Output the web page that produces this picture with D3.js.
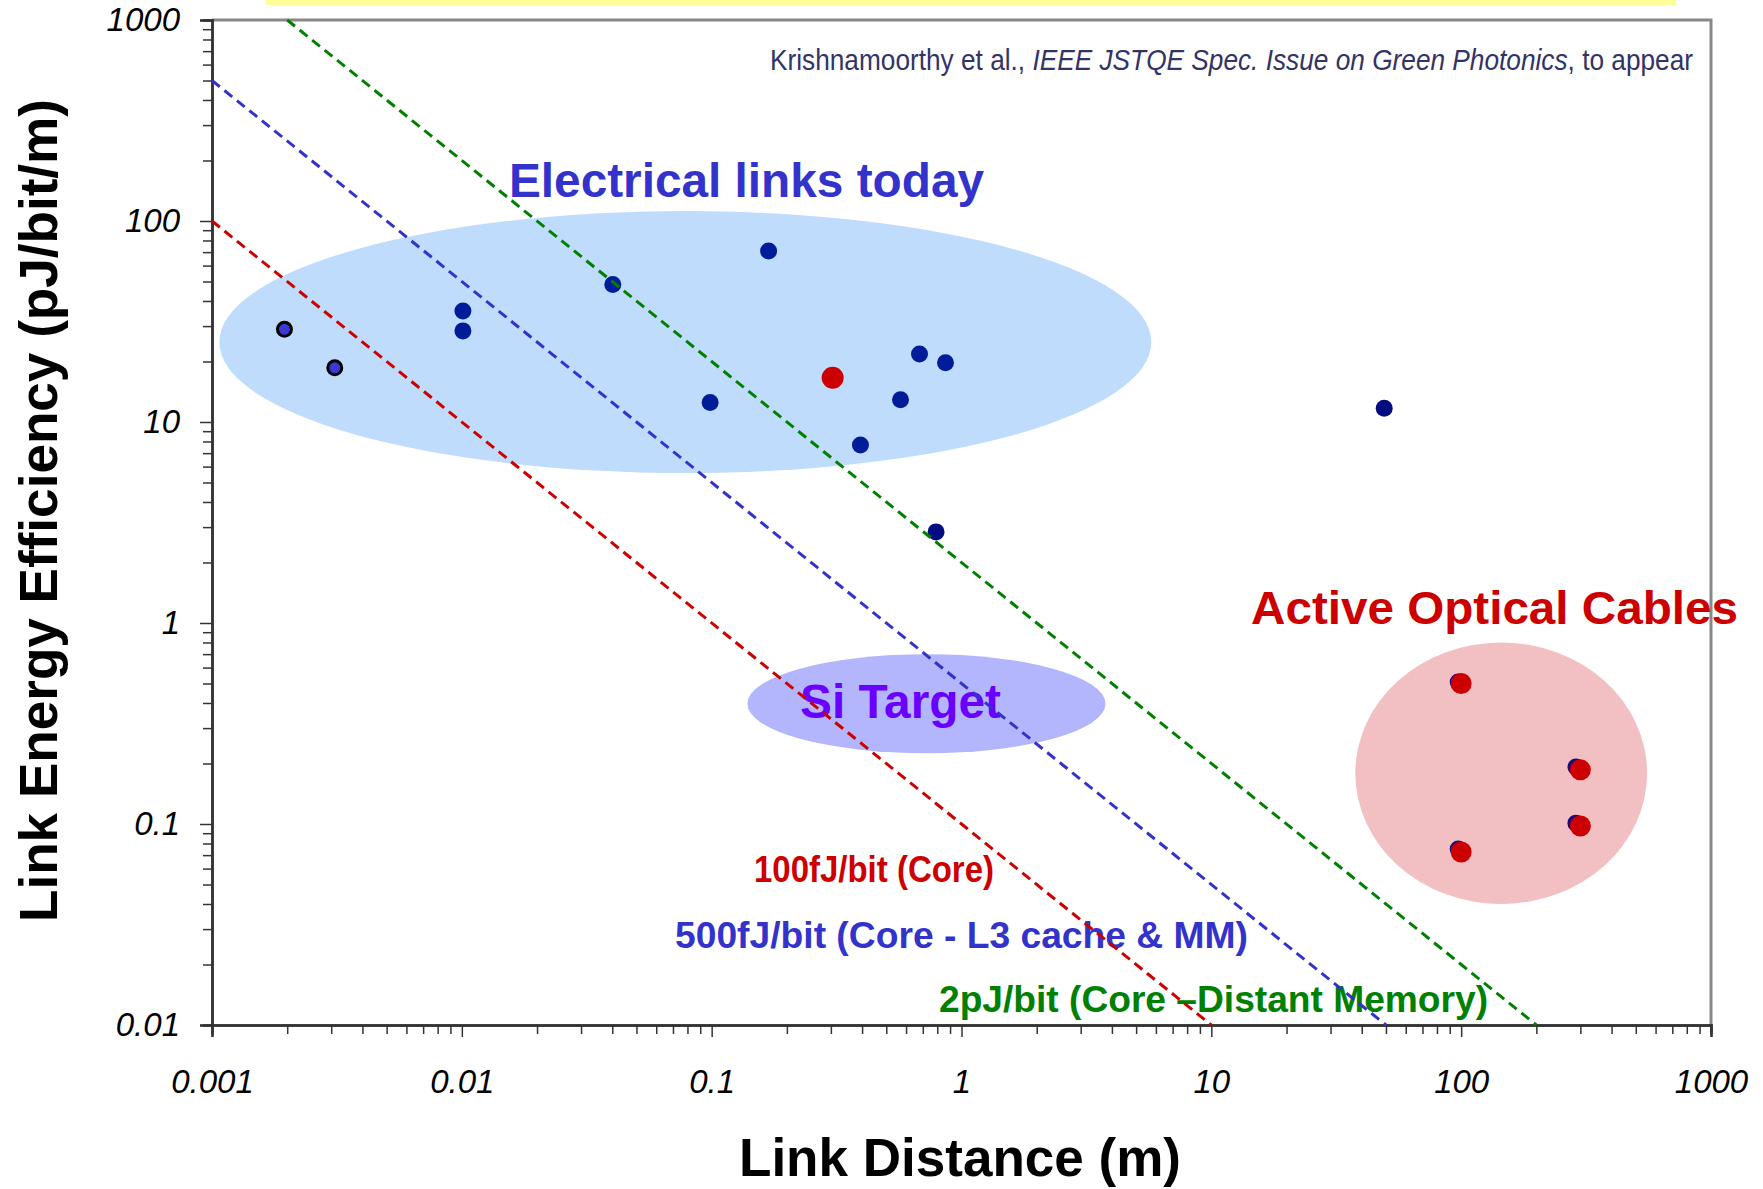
<!DOCTYPE html>
<html>
<head>
<meta charset="utf-8">
<script src="https://cdnjs.cloudflare.com/ajax/libs/d3/7.8.5/d3.min.js"></script>
<style>
body { margin: 0; background: #fff; }
svg text { font-family: "Liberation Sans", Arial, sans-serif; }
</style>
</head>
<body>
<div id="chart"></div>
<script>
// link distance (m) vs link energy efficiency (pJ/bit/m)
var xTickValues = [0.001, 0.01, 0.1, 1, 10, 100, 1000];
var xTickLabels = ['0.001', '0.01', '0.1', '1', '10', '100', '1000'];
var yTickValues = [0.01, 0.1, 1, 10, 100, 1000];
var yTickLabels = ['0.01', '0.1', '1', '10', '100', '1000'];

// on-chip links (outlined)
var onChipX = [0.00195, 0.0031];
var onChipY = [28.9, 18.6];

// electrical links today
var elecX = [0.0101, 0.0101, 0.0402, 0.169, 0.0986, 0.679, 0.863, 0.570, 0.394];
var elecY = [35.7, 28.4, 48.3, 71.0, 12.5, 21.8, 19.7, 12.9, 7.69];
var elecDarkX = [0.791, 49.2];
var elecDarkY = [2.84, 11.7];
var elecRedX = [0.305];
var elecRedY = [16.6];

// active optical cables (blue marker sits under the red one)
var aocBlueX = [97.3, 288, 288, 97.3];
var aocBlueY = [0.508, 0.192, 0.101, 0.0751];
var aocRedX = [100, 300, 300, 100];
var aocRedY = [0.5, 0.186, 0.0977, 0.0726];

// constant energy per bit lines
var lineNames  = ['100fJ', '500fJ', '2pJ'];
var lineX0 = [0.001, 0.001, 0.002];
var lineY0 = [100, 500, 1000];
var lineX1 = [10, 50, 200];
var lineY1 = [0.01, 0.01, 0.01];
var lineColors = ['#cc0000', '#3333cc', '#008000'];

// shaded regions (data bounds)
var regionNames = ['elec', 'si', 'aoc'];
var regionX0 = [0.00107, 0.139, 37.7];
var regionX1 = [5.75, 3.77, 555];
var regionY0 = [5.57, 0.225, 0.040];
var regionY1 = [112, 0.70, 0.80];
var regionColors = ['#c0dcfc', '#b3b6fc', '#f2c0c2'];


var chart_width  = 1763;
var chart_height = 1189;
var plot_left = 212, plot_right = 1711, plot_top = 20, plot_bottom = 1025;

var x_scale = d3.scaleLog()
	.domain([0.001, 1000])
	.range([plot_left, plot_right]);

var y_scale = d3.scaleLog()
	.domain([0.01, 1000])
	.range([plot_bottom, plot_top]);

var svg = d3.select('#chart')
	.append('svg')
	.attr('width', chart_width)
	.attr('height', chart_height);

svg.append('rect')
	.attr('width', chart_width).attr('height', chart_height)
	.attr('fill', '#fff');

// yellow strip at top
svg.append('rect')
	.attr('x', 266).attr('y', 0)
	.attr('width', 1410).attr('height', 5)
	.attr('fill', '#ffff99');

// shaded regions
regionNames.forEach(function(n, i) {
	var cx0 = x_scale(regionX0[i]), cx1 = x_scale(regionX1[i]);
	var cy0 = y_scale(regionY1[i]), cy1 = y_scale(regionY0[i]);
	svg.append('ellipse')
		.attr('cx', (cx0 + cx1) / 2)
		.attr('cy', (cy0 + cy1) / 2)
		.attr('rx', (cx1 - cx0) / 2)
		.attr('ry', (cy1 - cy0) / 2)
		.attr('fill', regionColors[i]);
});

// frame top / right
svg.append('path')
	.attr('d', 'M' + plot_left + ',' + plot_top + 'H' + plot_right + 'V' + plot_bottom)
	.attr('fill', 'none')
	.attr('stroke', '#888')
	.attr('stroke-width', 3);

// axes
var minorX = x_scale.ticks().filter(function(d) { return xTickValues.indexOf(d) < 0; });
var minorY = y_scale.ticks().filter(function(d) { return yTickValues.indexOf(d) < 0; });

var x_minor = d3.axisBottom(x_scale).tickValues(minorX).tickSize(9).tickFormat('');
var x_major = d3.axisBottom(x_scale).tickValues(xTickValues).tickSize(12).tickPadding(33)
	.tickFormat(function(d, i) { return xTickLabels[i]; });
var y_minor = d3.axisLeft(y_scale).tickValues(minorY).tickSize(9).tickFormat('');
var y_major = d3.axisLeft(y_scale).tickValues(yTickValues).tickSize(12).tickPadding(20)
	.tickFormat(function(d, i) { return yTickLabels[i]; });

[x_minor, x_major].forEach(function(ax) {
	svg.append('g')
		.attr('class', 'axis')
		.attr('transform', 'translate(0,' + plot_bottom + ')')
		.call(ax);
});
[y_minor, y_major].forEach(function(ax) {
	svg.append('g')
		.attr('class', 'axis')
		.attr('transform', 'translate(' + plot_left + ',0)')
		.call(ax);
});

svg.selectAll('.axis .domain').attr('stroke', '#333').attr('stroke-width', 2.5);
svg.selectAll('.axis .tick line').attr('stroke', '#333').attr('stroke-width', 1.5);
svg.selectAll('.axis text')
	.attr('fill', '#000')
	.style('font-size', '33px')
	.style('font-style', 'italic')
	.style('font-family', '"Liberation Sans", Arial, sans-serif');

// axis titles
svg.append('text')
	.attr('x', 739).attr('y', 1176)
	.attr('textLength', 442).attr('lengthAdjust', 'spacingAndGlyphs')
	.style('font-size', '53px').style('font-weight', 'bold')
	.text('Link Distance (m)');

svg.append('text')
	.attr('transform', 'translate(57,922) rotate(-90)')
	.attr('textLength', 823).attr('lengthAdjust', 'spacingAndGlyphs')
	.style('font-size', '53px').style('font-weight', 'bold')
	.text('Link Energy Efficiency (pJ/bit/m)');

// citation
var cite = svg.append('text')
	.attr('x', 770).attr('y', 70)
	.attr('textLength', 923).attr('lengthAdjust', 'spacingAndGlyphs')
	.attr('fill', '#333366')
	.style('font-size', '29px');
cite.append('tspan').text('Krishnamoorthy et al., ');
cite.append('tspan').style('font-style', 'italic').text('IEEE JSTQE Spec. Issue on Green Photonics');
cite.append('tspan').text(', to appear');

// labels
var labels = [
	{ t: 'Electrical links today', x: 509, y: 197, w: 475, s: 48, c: '#3333cc' },
	{ t: 'Active Optical Cables', x: 1251, y: 624, w: 487, s: 47, c: '#cc0000' },
	{ t: 'Si Target', x: 800, y: 718, w: 201, s: 48, c: '#6a00ff' },
	{ t: '100fJ/bit (Core)', x: 754, y: 882, w: 240, s: 36, c: '#cc0000' },
	{ t: '500fJ/bit (Core - L3 cache & MM)', x: 675, y: 948, w: 573, s: 36, c: '#3333cc' },
	{ t: '2pJ/bit (Core \u2013Distant Memory)', x: 939, y: 1012, w: 549, s: 36, c: '#008000' }
];
labels.forEach(function(l) {
	svg.append('text')
		.attr('x', l.x).attr('y', l.y)
		.attr('textLength', l.w).attr('lengthAdjust', 'spacingAndGlyphs')
		.attr('fill', l.c)
		.style('font-size', l.s + 'px').style('font-weight', 'bold')
		.text(l.t);
});

// points
function dots(xs, ys, r, fill, stroke, sw) {
	svg.append('g').selectAll('circle')
		.data(xs)
		.enter()
		.append('circle')
		.attr('cx', function(d) { return x_scale(d); })
		.attr('cy', function(d, i) { return y_scale(ys[i]); })
		.attr('r', r)
		.attr('fill', fill)
		.attr('stroke', stroke || 'none')
		.attr('stroke-width', sw || 0);
}
dots(onChipX, onChipY, 7, '#3a3ad0', '#000', 3);
dots(elecX, elecY, 8.5, '#001c99');
dots(elecDarkX, elecDarkY, 8.5, '#000c80');
dots(elecRedX, elecRedY, 11, '#cc0000');
dots(aocBlueX, aocBlueY, 8.5, '#1a0a80');
dots(aocRedX, aocRedY, 10.5, '#cc0000');

// constant energy lines
var line = d3.line()
	.x(function(d) { return x_scale(d[0]); })
	.y(function(d) { return y_scale(d[1]); });

lineNames.forEach(function(n, i) {
	svg.append('path')
		.datum([[lineX0[i], lineY0[i]], [lineX1[i], lineY1[i]]])
		.attr('fill', 'none')
		.attr('stroke', lineColors[i])
		.attr('stroke-width', 3)
		.attr('stroke-dasharray', '10,6')
		.attr('d', line);
});
</script>
</body>
</html>
